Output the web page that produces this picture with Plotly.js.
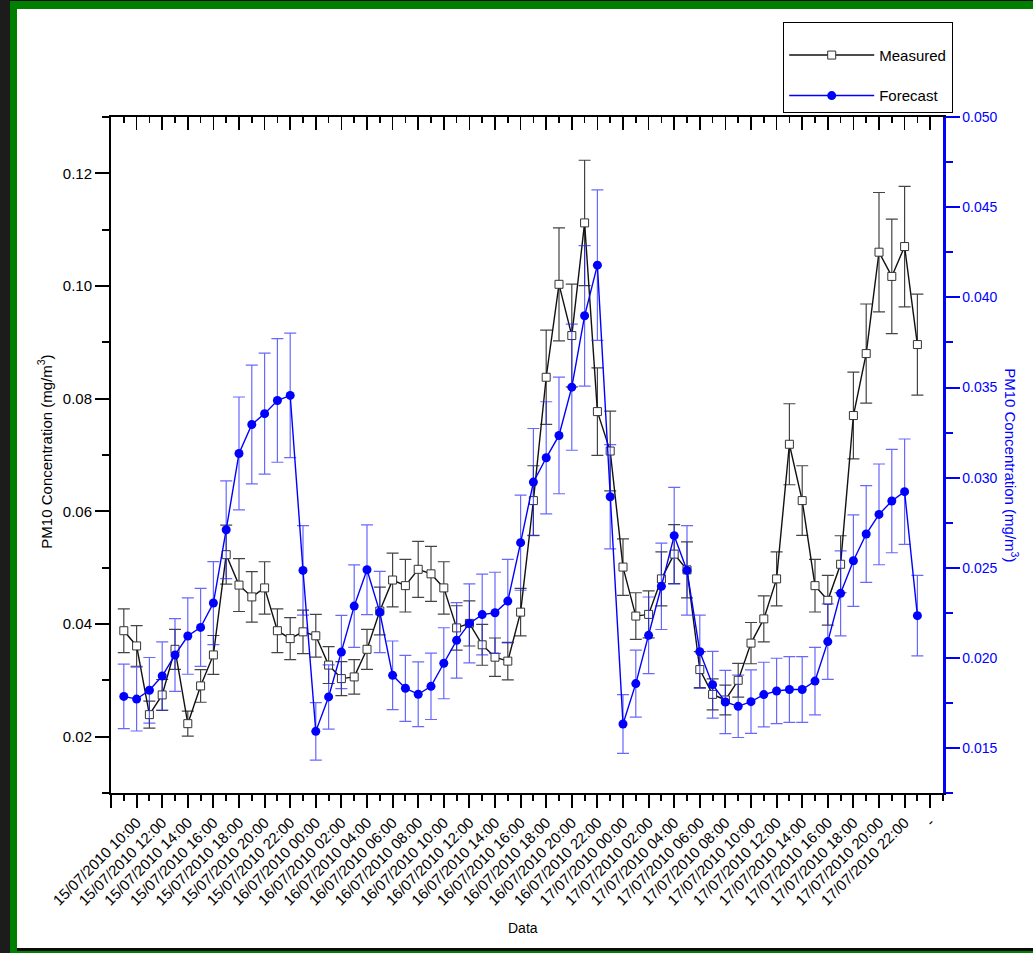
<!DOCTYPE html>
<html><head><meta charset="utf-8">
<script src="https://cdn.plot.ly/plotly-3.0.1.min.js"></script>
<style>
html,body{margin:0;padding:0;background:#fff;}
#wrap{position:relative;width:1033px;height:953px;overflow:hidden;background:#fff;}
#chart{position:absolute;left:0;top:0;width:1033px;height:953px;}
.f{position:absolute;pointer-events:none;}
</style></head><body>
<div id="wrap">
<div id="chart"></div>
<div class="f" style="left:0;top:0;width:10px;height:953px;background:#1c1c1c"></div>
<div class="f" style="left:10px;top:0;width:7px;height:953px;background:#007f00"></div>
<div class="f" style="left:10px;top:0;width:1023px;height:9px;background:#007f00"></div>
<div class="f" style="left:10px;top:0;width:1023px;height:1px;background:#0b0b0b"></div>
<div class="f" style="left:17px;top:948px;width:1016px;height:3px;background:#0b0b0b"></div>
<div class="f" style="left:10px;top:951px;width:1023px;height:2px;background:#007f00"></div>
</div>
<script>
const times = [
"15/07/2010 09:00","15/07/2010 10:00","15/07/2010 11:00","15/07/2010 12:00","15/07/2010 13:00","15/07/2010 14:00","15/07/2010 15:00","15/07/2010 16:00","15/07/2010 17:00","15/07/2010 18:00","15/07/2010 19:00","15/07/2010 20:00","15/07/2010 21:00","15/07/2010 22:00","15/07/2010 23:00",
"16/07/2010 00:00","16/07/2010 01:00","16/07/2010 02:00","16/07/2010 03:00","16/07/2010 04:00","16/07/2010 05:00","16/07/2010 06:00","16/07/2010 07:00","16/07/2010 08:00","16/07/2010 09:00","16/07/2010 10:00","16/07/2010 11:00","16/07/2010 12:00","16/07/2010 13:00","16/07/2010 14:00","16/07/2010 15:00","16/07/2010 16:00","16/07/2010 17:00","16/07/2010 18:00","16/07/2010 19:00","16/07/2010 20:00","16/07/2010 21:00","16/07/2010 22:00","16/07/2010 23:00",
"17/07/2010 00:00","17/07/2010 01:00","17/07/2010 02:00","17/07/2010 03:00","17/07/2010 04:00","17/07/2010 05:00","17/07/2010 06:00","17/07/2010 07:00","17/07/2010 08:00","17/07/2010 09:00","17/07/2010 10:00","17/07/2010 11:00","17/07/2010 12:00","17/07/2010 13:00","17/07/2010 14:00","17/07/2010 15:00","17/07/2010 16:00","17/07/2010 17:00","17/07/2010 18:00","17/07/2010 19:00","17/07/2010 20:00","17/07/2010 21:00","17/07/2010 22:00","17/07/2010 23:00"
];
const tickLabels = ["",
"15/07/2010 10:00","15/07/2010 12:00","15/07/2010 14:00","15/07/2010 16:00","15/07/2010 18:00","15/07/2010 20:00","15/07/2010 22:00",
"16/07/2010 00:00","16/07/2010 02:00","16/07/2010 04:00","16/07/2010 06:00","16/07/2010 08:00","16/07/2010 10:00","16/07/2010 12:00","16/07/2010 14:00","16/07/2010 16:00","16/07/2010 18:00","16/07/2010 20:00","16/07/2010 22:00",
"17/07/2010 00:00","17/07/2010 02:00","17/07/2010 04:00","17/07/2010 06:00","17/07/2010 08:00","17/07/2010 10:00","17/07/2010 12:00","17/07/2010 14:00","17/07/2010 16:00","17/07/2010 18:00","17/07/2010 20:00","17/07/2010 22:00",
"-"];
const measured = [0.0388,0.0361,0.0239,0.0274,0.0355,0.0223,0.0290,0.0345,0.0523,0.0469,
0.0448,0.0464,0.0388,0.0374,0.0386,0.0379,0.0327,0.0303,0.0306,0.0355,
0.0423,0.0478,0.0468,0.0497,0.0489,0.0464,0.0393,0.0401,0.0363,0.0341,
0.0334,0.0421,0.0619,0.0838,0.1003,0.0912,0.1112,0.0777,0.0707,0.0501,
0.0414,0.0417,0.0480,0.0524,0.0496,0.0319,0.0275,0.0265,0.0300,0.0366,
0.0409,0.0480,0.0719,0.0619,0.0468,0.0442,0.0506,0.0770,0.0880,0.1060,
0.1017,0.1070,0.0896];
const forecast = [0.01786,0.01771,0.0182,0.01899,0.02016,0.02121,0.02169,0.02304,0.02711,0.03134,
0.03295,0.03355,0.03428,0.03456,0.02485,0.01592,0.01783,0.02032,0.02287,0.02489,
0.02254,0.01903,0.01831,0.01798,0.01842,0.0197,0.02097,0.02191,0.0224,0.0225,
0.02315,0.02639,0.02975,0.0311,0.03234,0.03502,0.03898,0.04179,0.02894,0.01633,
0.01857,0.02125,0.02397,0.02678,0.02485,0.02034,0.01851,0.01755,0.01731,0.01757,
0.01796,0.01816,0.01824,0.01824,0.01871,0.0209,0.02358,0.02539,0.02687,0.02796,
0.0287,0.02922,0.02234];
const errorPercent = 10;

const xs = times.map((_, i) => i + 1);
const tickPositions = tickLabels.map((_, i) => 2 * i);
const FONT = 'Arial, "Liberation Sans", sans-serif';

const traces = [
  {x: xs, y: measured, text: times, name: 'Measured', legendgroup: 'a', type: 'scatter', mode: 'lines+markers',
   xaxis: 'x', yaxis: 'y', line: {color: '#111', width: 1.4},
   marker: {symbol: 'square', size: 8, color: '#fff', line: {color: '#333', width: 1}},
   error_y: {type: 'percent', value: errorPercent, color: '#444', thickness: 1.2, width: 6}},
  {x: xs, y: measured, xaxis: 'x2', yaxis: 'y', mode: 'markers', marker: {opacity: 0},
   showlegend: false, hoverinfo: 'skip'},
  {x: xs, y: forecast, text: times, name: 'Forecast', legendgroup: 'b', type: 'scatter', mode: 'lines+markers',
   xaxis: 'x', yaxis: 'y2', line: {color: '#0000ff', width: 1.4},
   marker: {symbol: 'circle', size: 9, color: '#0000ff'},
   error_y: {type: 'percent', value: errorPercent, color: 'rgba(40,40,255,0.7)', thickness: 1.2, width: 6}}
];

const layout = {
  width: 1033, height: 953,
  margin: {l: 111, r: 90, t: 117, b: 160, autoexpand: false},
  paper_bgcolor: '#fff', plot_bgcolor: '#fff',
  font: {family: FONT, size: 14, color: '#000'},
  showlegend: true,
  legend: {x: 0.8077, y: 1.1405, xanchor: 'left', yanchor: 'top', bgcolor: '#fff', bordercolor: '#000',
           borderwidth: 1.2, font: {size: 15, family: FONT}, itemwidth: 85, traceorder: 'grouped', tracegroupgap: 18,
           title: {text: ' ', font: {size: 12}}},
  xaxis: {range: [0, 65], tickmode: 'array', tickvals: tickPositions, ticktext: tickLabels, tickangle: -45,
          ticks: 'outside', ticklen: 13, tickwidth: 2, tickcolor: '#000', showline: true, linecolor: '#000', linewidth: 2,
          showgrid: false, zeroline: false, tickfont: {size: 15},
          minor: {dtick: 1, tick0: 0, ticks: 'outside', ticklen: 6, tickwidth: 2, tickcolor: '#000', showgrid: false}},
  xaxis2: {overlaying: 'x', side: 'top', anchor: 'y', range: [0, 65], tickmode: 'array', tickvals: tickPositions,
           showticklabels: false, ticks: 'inside', ticklen: 13, tickwidth: 1.5, tickcolor: '#000', showline: true,
           linewidth: 2, linecolor: '#000', showgrid: false, zeroline: false,
           minor: {dtick: 1, tick0: 0, ticks: 'inside', ticklen: 6, tickwidth: 1.5, tickcolor: '#000', showgrid: false}},
  yaxis: {range: [0.00999, 0.13], tick0: 0, dtick: 0.02, tickformat: '.2f', ticks: 'outside', ticklen: 14, tickwidth: 2,
          tickcolor: '#000', showline: true, linewidth: 2, linecolor: '#000', showgrid: false, zeroline: false,
          tickfont: {size: 15},
          minor: {dtick: 0.01, tick0: 0, ticks: 'outside', ticklen: 7, tickwidth: 2, tickcolor: '#000', showgrid: false}},
  yaxis2: {overlaying: 'y', side: 'right', anchor: 'x', range: [0.0125, 0.05001], tick0: 0, dtick: 0.005, tickformat: '.3f',
           ticks: 'outside', ticklen: 14, tickwidth: 2, tickcolor: '#0000ff', showline: true, linewidth: 2.5,
           linecolor: '#0000ff', tickfont: {color: '#0000ff', size: 14}, showgrid: false, zeroline: false,
           minor: {dtick: 0.0025, tick0: 0, ticks: 'outside', ticklen: 7, tickwidth: 2, tickcolor: '#0000ff', showgrid: false}},
  annotations: [
    {text: 'PM10 Concentration (mg/m<sup>3</sup>)', xref: 'paper', yref: 'paper', x: -0.0793, y: 0.505,
     xanchor: 'center', yanchor: 'middle', textangle: -90, showarrow: false, font: {size: 15, color: '#000'}},
    {text: 'PM10 Concentration (mg/m<sup>3</sup>)', xref: 'paper', yref: 'paper', x: 1.0829, y: 0.485,
     xanchor: 'center', yanchor: 'middle', textangle: 90, showarrow: false, font: {size: 15, color: '#0000ff'}},
    {text: 'Data', xref: 'paper', yref: 'paper', x: 0.495, y: -0.1997,
     xanchor: 'center', yanchor: 'middle', showarrow: false, font: {size: 14, color: '#000'}}
  ]
};

Plotly.newPlot('chart', traces, layout, {staticPlot: true, displayModeBar: false});
</script>
</body></html>
